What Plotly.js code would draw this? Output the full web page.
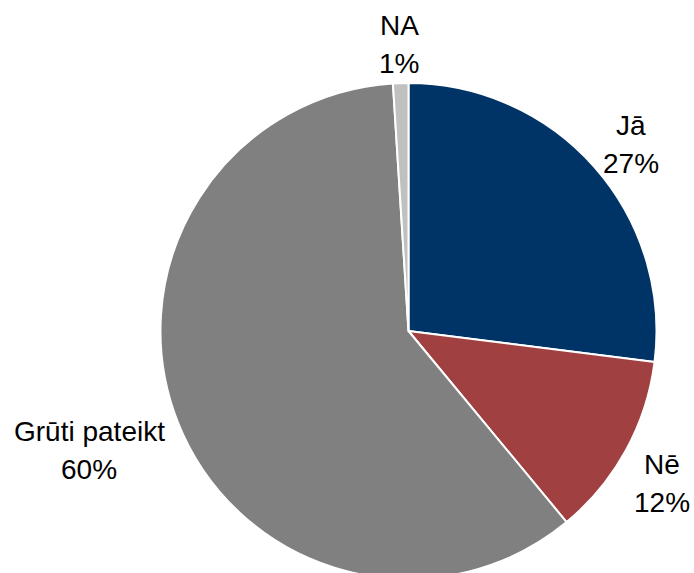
<!DOCTYPE html>
<html>
<head>
<meta charset="utf-8">
<script src="https://cdn.plot.ly/plotly-3.0.1.min.js"></script>
<style>html,body{margin:0;padding:0;background:#fff;width:694px;height:573px;overflow:hidden;}#chart{width:694px;height:600px;}</style>
</head>
<body>
<div id="chart"></div>
<script>
const labels = ["Jā", "Nē", "Grūti pateikt", "NA"];
const values = [27, 12, 60, 1];
const colors = ["#003366", "#A04040", "#808080", "#C0C0C0"];

const W = 694, H = 600;
const FONT = "Liberation Sans, Arial, sans-serif";
const FS = 28;
const domX = [0.2305, 0.9467];
const domY = [0.035, 0.8617];

// pie geometry as plotly lays it out (margins 0)
const cx = (domX[0] + domX[1]) / 2 * W;
const cy = (1 - (domY[0] + domY[1]) / 2) * H;
const R = Math.min((domX[1] - domX[0]) * W, (domY[1] - domY[0]) * H) / 2;

const ctx = document.createElement("canvas").getContext("2d");
ctx.font = FS + "px 'Liberation Sans'";

const total = values.reduce((a, b) => a + b, 0);
const annotations = [];
let cum = 0;
values.forEach((v, i) => {
  const mid = (cum + v / 2) / total * 2 * Math.PI;
  cum += v;
  const dx = Math.sin(mid), dy = -Math.cos(mid);
  const pct = Math.round(v / total * 100) + "%";
  const w = Math.max(ctx.measureText(labels[i]).width, ctx.measureText(pct).width);
  const h = 2.04 * FS;
  const D = R + 20;
  let bx = cx + D * dx + dx * w / 2;
  bx = Math.min(bx, W - 4 - w / 2);
  bx = Math.max(bx, 4 + w / 2);
  const by = cy + D * dy + dy * h / 2 + 10;
  const gap = 19;
  [[labels[i], by - gap], [pct, by + gap]].forEach(([t, yy]) => {
    annotations.push({
      xref: "paper", yref: "paper",
      x: bx / W, y: 1 - yy / H,
      xanchor: "center", yanchor: "middle",
      text: t, showarrow: false,
      font: {family: FONT, size: FS, color: "#000000"}
    });
  });
});

const trace = {
  type: "pie",
  labels: labels,
  values: values,
  sort: false,
  direction: "clockwise",
  rotation: 0,
  marker: {colors: colors, line: {color: "#ffffff", width: 2}},
  textinfo: "none",
  automargin: false,
  hoverinfo: "none",
  domain: {x: domX, y: domY}
};

const layout = {
  width: W,
  height: H,
  margin: {l: 0, r: 0, t: 0, b: 0},
  showlegend: false,
  paper_bgcolor: "#ffffff",
  font: {family: FONT, size: FS, color: "#000000"},
  annotations: annotations
};

Plotly.newPlot("chart", [trace], layout, {staticPlot: true});
</script>
</body>
</html>
